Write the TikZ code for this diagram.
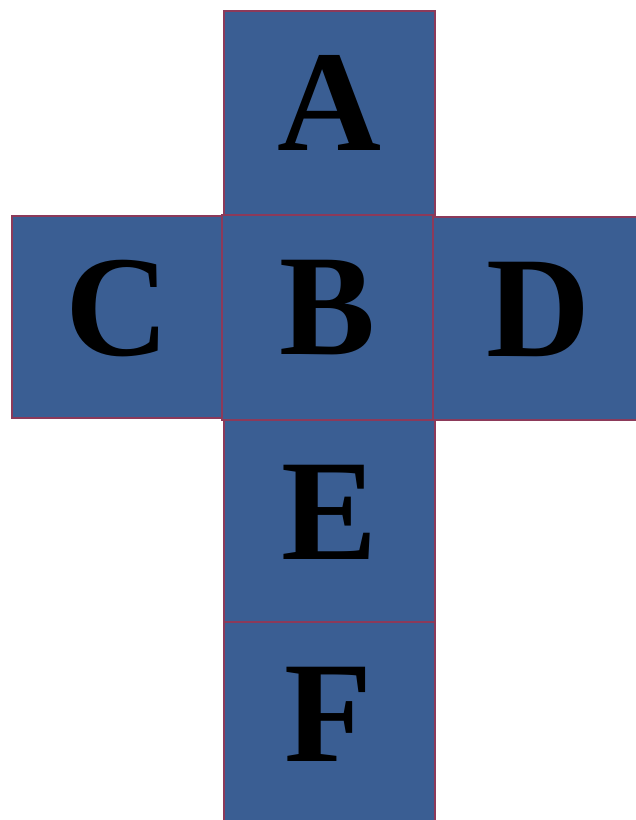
\documentclass[tikz,border=0pt]{standalone}
\usepackage{fontspec}
\setmainfont{Liberation Serif}
\definecolor{cellblue}{RGB}{58,94,147}
\definecolor{cellline}{RGB}{140,58,90}
\begin{document}
\begin{tikzpicture}[x=1pt,y=-1pt,
  cell/.style={draw=cellline, line width=1.5pt, fill=cellblue},
  letter/.style={inner sep=0pt, font=\fontsize{144}{144}\selectfont\bfseries, text=black}]
\useasboundingbox (0,0) rectangle (636,820);
\fill[white] (0,0) rectangle (636,820);
\path[cell] (224,11) rectangle (435,215);
\path[cell] (12,216) rectangle (222,418);
\path[cell] (433,217) rectangle (640,420);
\path[cell] (224,420) rectangle (435,622);
\path[cell] (224,622) rectangle (435,824);
\path[cell] (222,215) rectangle (433,420);
\node[letter] (A) at (329,103) {A};
\node[letter] (B) at (328,308) {B};
\node[letter] (C) at (117,309) {C};
\node[letter] (D) at (538,309) {D};
\node[letter] (E) at (330,512) {E};
\node[letter] (F) at (328,714) {F};
\end{tikzpicture}
\end{document}
